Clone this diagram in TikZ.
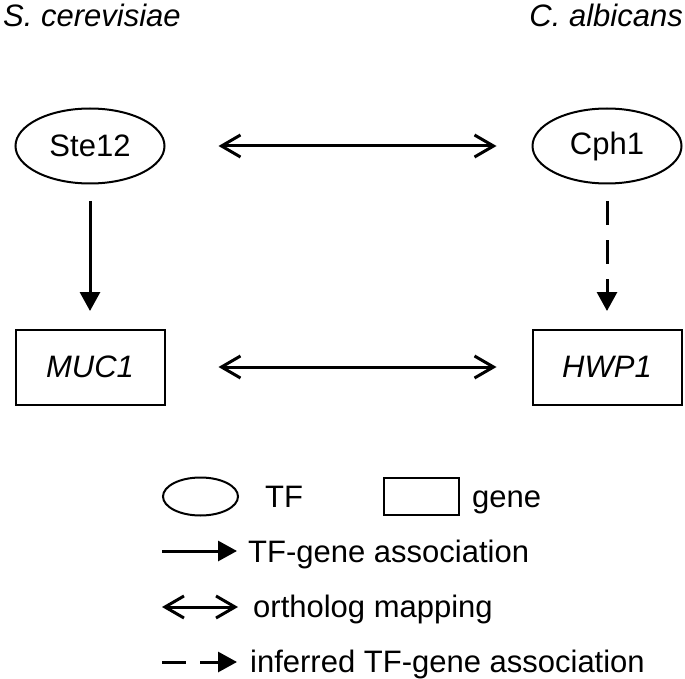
\documentclass[tikz,border=0pt]{standalone}
\usepackage{fontspec}
\setmainfont{Liberation Sans}
\usetikzlibrary{arrows.meta,shapes.geometric}
\begin{document}
\begin{tikzpicture}[x=1pt,y=-1pt,
  every node/.style={font=\fontsize{31}{37}\selectfont, inner sep=0pt},
  tfnode/.style={draw, ellipse, line width=2pt, minimum width=149pt, minimum height=75pt},
  genenode/.style={draw, rectangle, line width=2pt, minimum width=149pt, minimum height=75pt},
  assoc/.style={line width=3pt, -{Triangle[length=19pt,width=20pt]}},
  inferred/.style={assoc, dash pattern=on 24pt off 15pt},
  ortho/.style={line width=3pt, {Straight Barb[length=19pt,width=22pt]}-{Straight Barb[length=19pt,width=22pt]}},
  lbl/.style={anchor=base west}
]
\useasboundingbox (0,0) rectangle (685,679);

% titles
\node[anchor=base west] (t1) at (3,27) {\itshape S. cerevisiae};
\node[anchor=base east] (t2) at (683,27) {\itshape C. albicans};

% nodes
\node[tfnode] (ste) at (90,146) {Ste12};
\node[tfnode] (cph) at (607,146) {Cph1};
\node[genenode] (muc) at (90,367) {\itshape MUC1};
\node[genenode] (hwp) at (607,367) {\itshape HWP1};

% connectors
\draw[ortho, shorten <=53pt, shorten >=35pt] (ste.east) -- (cph.west);
\draw[ortho, shorten <=53pt, shorten >=35pt] (muc.east) -- (hwp.west);
\draw[assoc, shorten <=16.5pt, shorten >=17.5pt] (ste.south) -- (muc.north);
\draw[inferred, shorten <=16.5pt, shorten >=17.5pt] (cph.south) -- (hwp.north);

% legend
\node[draw, ellipse, line width=2pt, minimum width=75pt, minimum height=38pt] (lte) at (200.5,496.5) {};
\node[lbl] (ltf) at (265,507) {TF};
\node[draw, rectangle, line width=2pt, minimum width=75pt, minimum height=37pt] (lgb) at (421.5,496.5) {};
\node[lbl] (lgene) at (472,507) {gene};

\coordinate (a1) at (162,551);
\coordinate (a2) at (237,551);
\draw[assoc] (a1) -- (a2);
\node[lbl] (l1) at (248,562) {TF-gene association};

\coordinate (b1) at (162,607);
\coordinate (b2) at (238,607);
\draw[ortho] (b1) -- (b2);
\node[lbl] (l2) at (253,617) {ortholog mapping};

\coordinate (c1) at (162,662);
\coordinate (c2) at (237,662);
\draw[assoc, dash pattern=on 24pt off 14pt] (c1) -- (c2);
\node[lbl] (l3) at (250,672) {inferred TF-gene association};
\end{tikzpicture}
\end{document}
